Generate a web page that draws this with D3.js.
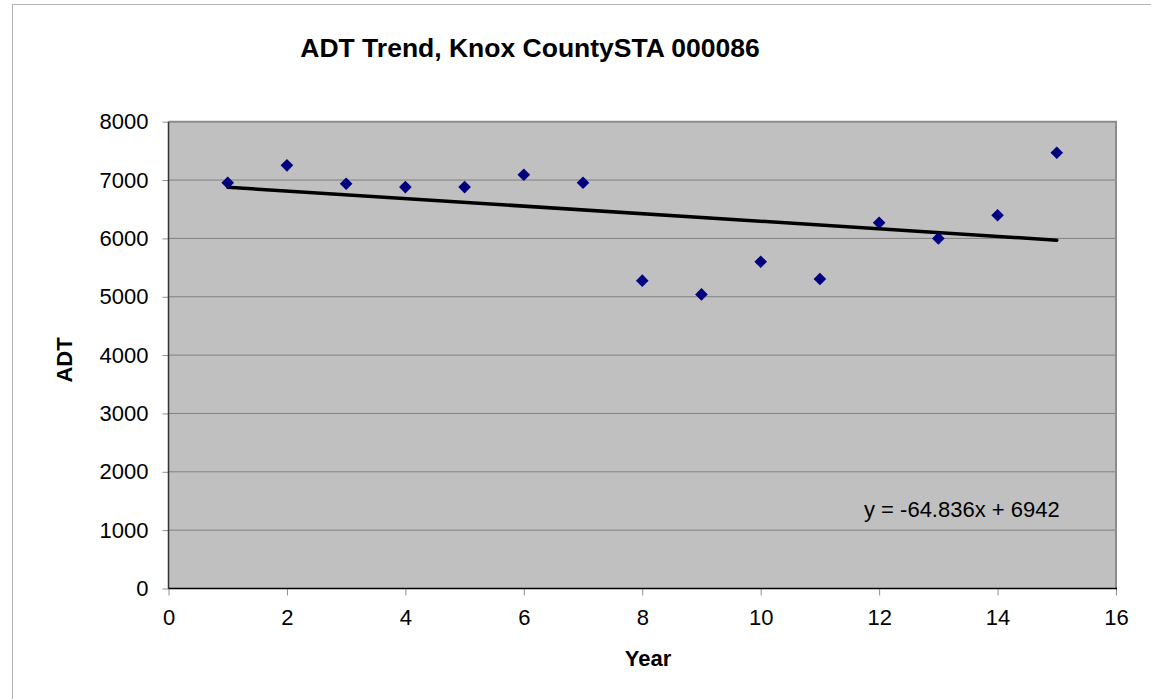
<!DOCTYPE html>
<html>
<head>
<meta charset="utf-8">
<script src="https://cdn.jsdelivr.net/npm/d3@7"></script>
<style>
  html, body { margin: 0; padding: 0; background: #fff; }
  svg { display: block; }
  text { font-family: "Liberation Sans", Arial, sans-serif; fill: #000; }
</style>
</head>
<body>
<svg id="chart" width="1151" height="699"></svg>
<script>
const years = [1, 2, 3, 4, 5, 6, 7, 8, 9, 10, 11, 12, 13, 14, 15];
const adt = [6954, 7252, 6937, 6880, 6880, 7091, 6954, 5276, 5040, 5600, 5305, 6269, 6000, 6397, 7468];
const xTicks = [0, 2, 4, 6, 8, 10, 12, 14, 16];
const yTicks = [0, 1000, 2000, 3000, 4000, 5000, 6000, 7000, 8000];
const trendSlope = -64.836;
const trendIntercept = 6942;
const titleText = "ADT Trend, Knox CountySTA 000086";
const xLabel = "Year";
const yLabel = "ADT";
const equationText = "y = -64.836x + 6942";

const svg = d3.select("#chart");
const W = 1151, H = 699;
const plot = { left: 168.5, top: 121.7, right: 1116, bottom: 588.5 };

// outer chart border
svg.append("rect").attr("x", 12.5).attr("y", 4.5).attr("width", W + 10).attr("height", H + 10)
  .attr("fill", "#fff").attr("stroke", "#b4b4b4").attr("stroke-width", 1);

const x = d3.scaleLinear().domain([0, 16]).range([plot.left, plot.right]);
const y = d3.scaleLinear().domain([0, 8000]).range([plot.bottom, plot.top]);

// plot area
svg.append("rect").attr("x", plot.left).attr("y", plot.top)
  .attr("width", plot.right - plot.left).attr("height", plot.bottom - plot.top)
  .attr("fill", "#c0c0c0");

// gridlines
svg.append("g").selectAll("line").data(yTicks.filter(d => d > 0 && d < 8000)).join("line")
  .attr("x1", plot.left).attr("x2", plot.right)
  .attr("y1", d => y(d)).attr("y2", d => y(d))
  .attr("stroke", "#808080").attr("stroke-width", 1);

// plot border top/right
svg.append("path")
  .attr("d", `M${plot.left},${plot.top}H${plot.right}V${plot.bottom}`)
  .attr("fill", "none").attr("stroke", "#8c8c8c").attr("stroke-width", 2);

// axes
const yAxis = d3.axisLeft(y).tickValues(yTicks).tickSize(6).tickPadding(14).tickFormat(d3.format("d"));
const xAxis = d3.axisBottom(x).tickValues(xTicks).tickSize(7).tickPadding(14).tickFormat(d3.format("d"));

const gy = svg.append("g").attr("transform", `translate(${plot.left},0)`).call(yAxis);
const gx = svg.append("g").attr("transform", `translate(0,${plot.bottom})`).call(xAxis);

[gx, gy].forEach(g => {
  g.select(".domain").remove();
  g.selectAll(".tick line").attr("stroke", "#909090").attr("stroke-width", 1);
  g.selectAll(".tick text").attr("font-size", "22px").attr("font-family", "Liberation Sans, Arial, sans-serif").attr("fill", "#000");
});

svg.append("line").attr("x1", plot.left).attr("x2", plot.left).attr("y1", plot.top).attr("y2", plot.bottom)
  .attr("stroke", "#333").attr("stroke-width", 1.5);
svg.append("line").attr("x1", plot.left).attr("x2", plot.right + 1).attr("y1", plot.bottom).attr("y2", plot.bottom)
  .attr("stroke", "#000").attr("stroke-width", 1.5);

// trendline
const trendX = [d3.min(years), d3.max(years)];
svg.append("line")
  .attr("x1", x(trendX[0])).attr("y1", y(trendIntercept + trendSlope * trendX[0]))
  .attr("x2", x(trendX[1])).attr("y2", y(trendIntercept + trendSlope * trendX[1]))
  .attr("stroke", "#000").attr("stroke-width", 3.5).attr("stroke-linecap", "round");

// markers
const diamond = d3.symbol().type(d3.symbolSquare).size(80);
svg.append("g").selectAll("path").data(years.map((yr, i) => ({ yr, v: adt[i] }))).join("path")
  .attr("d", diamond)
  .attr("transform", d => `translate(${x(d.yr)},${y(d.v)}) rotate(45)`)
  .attr("fill", "#000080");

// equation
svg.append("text").attr("x", 864).attr("y", 516.5).attr("font-size", "22px").text(equationText);

// title
svg.append("text").attr("x", 530).attr("y", 56.5).attr("text-anchor", "middle")
  .attr("font-size", "26.5px").attr("font-weight", "bold").text(titleText);

// axis titles
svg.append("text").attr("x", 648).attr("y", 665.5).attr("text-anchor", "middle")
  .attr("font-size", "22px").attr("font-weight", "bold").text(xLabel);
svg.append("text").attr("transform", "translate(71.5,360) rotate(-90)").attr("text-anchor", "middle")
  .attr("font-size", "22px").attr("font-weight", "bold").text(yLabel);
</script>
</body>
</html>
